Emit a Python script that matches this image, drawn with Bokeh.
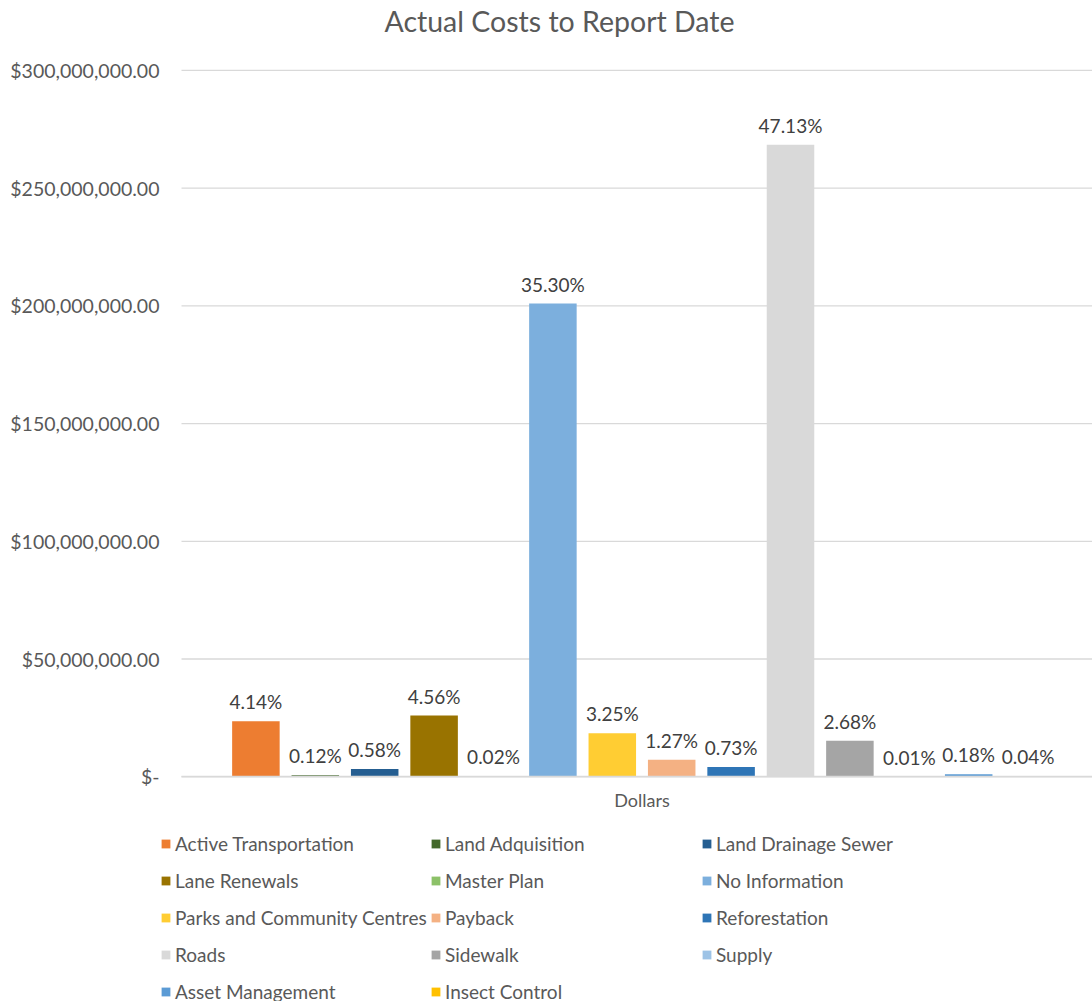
from bokeh.plotting import figure
from bokeh.models import (ColumnDataSource, Range1d, FixedTicker, NumeralTickFormatter,
                          LabelSet, Legend, LegendItem, Title)
from bokeh.core.properties import value
from bokeh.embed import file_html
from bokeh.resources import INLINE

# ---- data ----
categories = ["Active Transportation", "Land Adquisition", "Land Drainage Sewer",
              "Lane Renewals", "Master Plan", "No Information",
              "Parks and Community Centres", "Payback", "Reforestation",
              "Roads", "Sidewalk", "Supply", "Asset Management", "Insect Control"]
dollars = [23.58e6, 0.68e6, 3.30e6, 25.97e6, 0.11e6, 201.0e6,
           18.51e6, 7.23e6, 4.16e6, 268.4e6, 15.26e6, 0.06e6, 1.03e6, 0.23e6]
percent_labels = ["4.14%", "0.12%", "0.58%", "4.56%", "0.02%", "35.30%",
                  "3.25%", "1.27%", "0.73%", "47.13%", "2.68%", "0.01%", "0.18%", "0.04%"]
colors = ["#ED7D31", "#43682B", "#255E91", "#997300", "#8CC168", "#7CAFDD",
          "#FFCD33", "#F4B183", "#2E75B6", "#D9D9D9", "#A5A5A5", "#9DC3E6",
          "#5B9BD5", "#FFC000"]
y_ticks = [0, 50e6, 100e6, 150e6, 200e6, 250e6, 300e6]
x_category = "Dollars"

FONT = "Lato"
n = len(categories)
xs = [i - (n - 1) / 2 for i in range(n)]

src = ColumnDataSource(dict(x=xs, top=dollars, label=percent_labels,
                            color=colors, name=categories))

# ---- geometry (pixels) ----
W, H = 1092, 1001
FRAME_TOP = 38          # title panel height (title + standoff)
PLOT_LEFT_PX = 181      # left end of the gridlines
ZERO_PX, TOP_TICK_PX = 776, 69
CENTER_PX, STEP_PX = 641.5, 59.4

px_per_unit_y = (ZERO_PX - TOP_TICK_PX) / y_ticks[-1]
y_end = y_ticks[-1] + (TOP_TICK_PX - FRAME_TOP) / px_per_unit_y
y_start = -(H - ZERO_PX) / px_per_unit_y
x_start = -CENTER_PX / STEP_PX
x_end = (W - CENTER_PX) / STEP_PX
x_left = x_start + PLOT_LEFT_PX / STEP_PX

p = figure(width=W, height=H, output_backend="svg", toolbar_location=None,
           x_range=Range1d(x_start, x_end), y_range=Range1d(y_start, y_end),
           min_border_left=0, min_border_right=0, min_border_top=0,
           min_border_bottom=0, title=None)
p.outline_line_color = None
p.background_fill_color = "white"
p.border_fill_color = "white"
p.grid.visible = False

# horizontal gridlines at the y ticks
p.segment(x0=[x_left] * len(y_ticks), x1=[x_end] * len(y_ticks), y0=y_ticks, y1=y_ticks,
          line_color="#D9D9D9", line_width=1.3)

r = p.vbar(x="x", top="top", width=0.8, fill_color="color", line_color=None, source=src)

labels = LabelSet(x="x", y="top", text="label", source=src, text_align="center",
                  text_baseline="bottom", y_offset=8, text_font=value(FONT),
                  text_font_size=value("19px"), text_color="#404040")
p.add_layout(labels)

# axes (fixed inside the frame)
p.yaxis.fixed_location = x_left
p.yaxis.ticker = FixedTicker(ticks=y_ticks)
p.yaxis.formatter = NumeralTickFormatter(format="$0,0.00")
p.yaxis.major_label_overrides = {0: "$-"}
p.yaxis.axis_line_color = None
p.yaxis.major_tick_line_color = None
p.yaxis.minor_tick_line_color = None
p.yaxis.major_tick_out = 0
p.yaxis.major_tick_in = 0
p.yaxis.major_label_standoff = 22
p.yaxis.major_label_text_font = FONT
p.yaxis.major_label_text_font_size = "19.5px"
p.yaxis.major_label_text_color = "#595959"

p.xaxis.fixed_location = 0
p.xaxis.bounds = (x_left, x_end)
p.xaxis.ticker = FixedTicker(ticks=[0])
p.xaxis.major_label_overrides = {0: x_category}
p.xaxis.axis_line_color = "#D9D9D9"
p.xaxis.axis_line_width = 1.3
p.xaxis.major_tick_line_color = None
p.xaxis.minor_tick_line_color = None
p.xaxis.major_tick_out = 0
p.xaxis.major_tick_in = 0
p.xaxis.major_label_standoff = 12
p.xaxis.major_label_text_font = FONT
p.xaxis.major_label_text_font_size = "18px"
p.xaxis.major_label_text_color = "#595959"

title = Title(text="Actual Costs to Report Date", align="left", offset=384,
              text_font=FONT, text_font_size="28.5px", text_font_style="normal",
              text_color="#595959", standoff=3)
p.add_layout(title, "above")

# legend: three equal-width columns, row-major order
ncols = 3
col_x = [160, 430, 701]
row_pitch = 37
item_h = 24
first_center = 843
for c in range(ncols):
    idx = list(range(c, n, ncols))
    items = [LegendItem(label=categories[i], renderers=[r], index=i) for i in idx]
    rows = len(idx)
    height = rows * item_h + (rows - 1) * (row_pitch - item_h)
    top_px = first_center - item_h / 2
    leg = Legend(items=items, location=(col_x[c], H - (top_px + height)),
                 orientation="vertical", glyph_width=11, glyph_height=11,
                 label_height=item_h, spacing=row_pitch - item_h, padding=0, margin=0,
                 label_standoff=4, border_line_color=None,
                 background_fill_alpha=0, label_text_font=FONT,
                 label_text_font_size="19px", label_text_color="#595959")
    p.add_layout(leg, "center")

open("out.html", "w").write(file_html(p, INLINE))
